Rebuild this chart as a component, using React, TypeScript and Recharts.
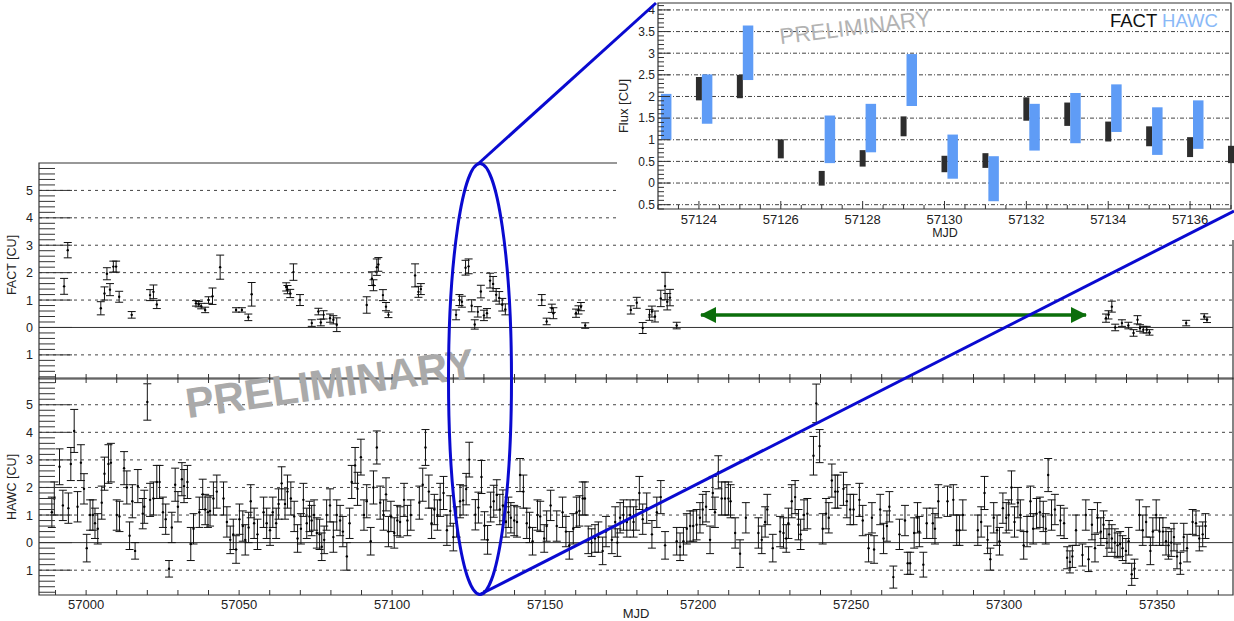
import React from 'react';
import { ComposedChart, Scatter, XAxis, YAxis, ErrorBar, ReferenceLine, ReferenceArea } from 'recharts';

const FONT = '"Liberation Sans", Arial, Helvetica, sans-serif';

// ---------------- FACT light curve (main panel) ----------------
const factMjd = [
  56992.8, 56994.0, 57004.8, 57006.0, 57006.8, 57007.8, 57008.9, 57009.8, 57010.8, 57014.9,
  57020.9, 57022.0, 57023.1, 57035.9, 57036.8, 57037.6, 57038.9, 57040.0, 57041.3, 57043.8,
  57049.0, 57050.9, 57053.0, 57054.1, 57065.4, 57065.8, 57066.7, 57067.75, 57069.9, 57073.75,
  57075.9, 57076.7, 57077.6, 57079.7, 57080.8, 57081.9, 57091.7, 57093.4, 57093.9, 57095.0,
  57095.5, 57097.0, 57098.0, 57098.8, 57107.5, 57108.6, 57109.4, 57120.9, 57122.0, 57122.8,
  57124.0, 57125.0, 57126.0, 57127.0, 57128.0, 57129.0, 57130.0, 57131.0, 57132.0, 57133.0,
  57134.0, 57135.0, 57136.0, 57137.0, 57148.9, 57150.5, 57152.2, 57152.7, 57160.1, 57160.9,
  57161.7, 57163.1, 57178.0, 57179.95, 57181.9, 57184.1, 57184.9, 57185.9, 57187.8, 57189.2,
  57189.9, 57190.8, 57193.0, 57333.3, 57334.1, 57335.2, 57336.3, 57338.5, 57340.6, 57342.3,
  57343.6, 57344.4, 57345.5, 57346.6, 57347.5, 57359.5, 57365.4, 57366.3,
];
const factFlux = [
  1.5, 2.82, 0.7, 1.24, 1.96, 1.38, 2.22, 2.22, 1.12, 0.46,
  1.18, 1.3, 0.84, 0.88, 0.85, 0.78, 0.64, 1.0, 1.14, 2.2,
  0.64, 0.64, 0.37, 1.21, 1.48, 1.38, 1.24, 2.02, 1.0, 0.16,
  0.58, 0.18, 0.46, 0.34, 0.28, 0.1, 0.82, 1.78, 1.54, 2.2,
  2.3, 1.18, 0.76, 0.46, 1.9, 1.3, 1.4, 0.46, 1.0, 0.94,
  2.18, 2.23, 0.79, 0.11, 0.57, 1.31, 0.44, 0.52, 1.71, 1.59,
  1.19, 1.08, 0.83, 0.66, 1.0, 0.22, 0.7, 0.52, 0.52, 0.64,
  0.76, 0.07, 0.64, 0.9, -0.02, 0.46, 0.58, 0.4, 1.06, 1.51,
  0.94, 1.09, 0.07, 0.34, 0.46, 0.76, 0.0, 0.16, 0.07, -0.2,
  0.28, -0.02, -0.08, -0.08, -0.18, 0.16, 0.4, 0.28,
];
const factErr = [
  0.29, 0.28, 0.24, 0.24, 0.22, 0.22, 0.2, 0.2, 0.2, 0.12,
  0.2, 0.25, 0.15, 0.1, 0.1, 0.1, 0.1, 0.12, 0.3, 0.44,
  0.08, 0.08, 0.12, 0.43, 0.15, 0.15, 0.15, 0.3, 0.2, 0.12,
  0.12, 0.12, 0.15, 0.15, 0.15, 0.25, 0.3, 0.25, 0.2, 0.3,
  0.25, 0.2, 0.15, 0.1, 0.42, 0.2, 0.2, 0.18, 0.2, 0.2,
  0.27, 0.27, 0.22, 0.17, 0.19, 0.23, 0.19, 0.17, 0.27, 0.27,
  0.23, 0.23, 0.23, 0.2, 0.2, 0.12, 0.15, 0.2, 0.15, 0.15,
  0.15, 0.1, 0.15, 0.2, 0.2, 0.2, 0.2, 0.2, 0.3, 0.5,
  0.3, 0.3, 0.12, 0.15, 0.15, 0.2, 0.12, 0.12, 0.12, 0.12,
  0.15, 0.12, 0.12, 0.12, 0.1, 0.1, 0.1, 0.1,
];

// ---------------- HAWC light curve (main panel) ----------------
const hawcMjd = [
  56988.8, 56989.6, 56991.3, 56992.4, 56994.2, 56995.0, 56996.1, 56997.2, 56998.3, 56999.3,
  57000.2, 57001.3, 57002.2, 57002.9, 57003.8, 57005.1, 57006.0, 57007.3, 57008.1, 57010.0,
  57010.9, 57012.4, 57013.3, 57014.2, 57015.1, 57016.0, 57016.9, 57018.5, 57019.0, 57020.0,
  57020.9, 57022.0, 57023.1, 57024.0, 57025.1, 57026.0, 57027.1, 57028.0, 57029.1, 57030.0,
  57031.3, 57032.0, 57033.1, 57034.2, 57035.1, 57037.0, 57038.1, 57038.9, 57039.8, 57040.5,
  57041.6, 57042.7, 57044.9, 57046.0, 57047.1, 57048.1, 57049.0, 57050.1, 57051.2, 57052.0,
  57053.1, 57053.8, 57054.9, 57056.0, 57058.0, 57059.0, 57060.1, 57061.0, 57062.1, 57062.9,
  57063.9, 57065.0, 57065.8, 57066.9, 57068.0, 57069.1, 57070.2, 57071.0, 57072.1, 57073.0,
  57073.7, 57074.5, 57075.4, 57076.3, 57077.0, 57077.8, 57078.6, 57079.7, 57080.8, 57081.9,
  57083.0, 57083.9, 57085.2, 57086.1, 57086.8, 57087.9, 57088.7, 57089.8, 57090.8, 57091.7,
  57093.0, 57093.9, 57095.0, 57096.1, 57097.2, 57098.0, 57098.8, 57099.6, 57100.7, 57101.7,
  57102.6, 57103.9, 57105.0, 57106.1, 57108.9, 57110.0, 57110.9, 57112.0, 57112.9, 57113.8,
  57114.8, 57115.7, 57116.8, 57117.9, 57119.0, 57120.0, 57121.1, 57122.2, 57123.2, 57124.2,
  57125.2, 57127.2, 57128.2, 57129.2, 57130.2, 57131.2, 57132.2, 57133.2, 57134.2, 57135.2,
  57136.2, 57137.2, 57138.0, 57138.8, 57139.9, 57140.8, 57141.8, 57142.9, 57144.0, 57144.9,
  57145.9, 57147.5, 57148.4, 57149.7, 57150.5, 57151.8, 57153.8, 57155.7, 57156.8, 57157.9,
  57159.2, 57160.3, 57161.2, 57162.3, 57163.0, 57164.1, 57165.2, 57166.3, 57167.4, 57168.8,
  57169.9, 57171.8, 57172.9, 57173.6, 57174.5, 57175.6, 57176.7, 57177.8, 57178.9, 57179.7,
  57180.8, 57181.9, 57183.2, 57184.9, 57186.5, 57187.8, 57189.2, 57193.0, 57194.1, 57195.2,
  57196.3, 57197.4, 57198.4, 57199.5, 57200.6, 57201.5, 57202.6, 57203.9, 57204.8, 57205.5,
  57206.6, 57207.7, 57208.8, 57209.9, 57210.6, 57212.1, 57213.7, 57215.6, 57219.7, 57220.8,
  57221.9, 57222.6, 57224.4, 57226.8, 57227.9, 57228.8, 57229.5, 57230.6, 57231.7, 57232.8,
  57233.5, 57234.6, 57235.7, 57237.7, 57238.6, 57239.7, 57240.7, 57241.8, 57242.7, 57243.7,
  57244.8, 57245.6, 57247.5, 57248.6, 57249.7, 57250.8, 57252.7, 57253.8, 57255.7, 57256.8,
  57257.5, 57259.5, 57260.6, 57261.7, 57262.5, 57263.8, 57265.8, 57267.6, 57268.5, 57269.3,
  57270.6, 57271.7, 57272.3, 57273.6, 57274.7, 57276.7, 57277.4, 57278.5, 57281.5, 57283.4,
  57284.5, 57285.4, 57286.5, 57291.4, 57292.5, 57293.6, 57294.6, 57295.5, 57296.6, 57297.7,
  57298.5, 57299.6, 57300.7, 57301.5, 57302.4, 57303.4, 57304.5, 57305.3, 57306.4, 57307.5,
  57308.6, 57309.5, 57310.6, 57311.7, 57312.8, 57313.6, 57314.4, 57315.5, 57316.6, 57318.4,
  57319.6, 57320.6, 57321.5, 57322.3, 57323.5, 57325.6, 57326.7, 57327.6, 57328.7, 57329.7,
  57330.5, 57331.6, 57332.5, 57333.6, 57334.3, 57335.2, 57336.2, 57337.1, 57337.9, 57338.7,
  57339.8, 57340.7, 57341.7, 57342.6, 57344.2, 57345.3, 57346.4, 57347.8, 57348.6, 57349.7,
  57350.8, 57351.9, 57352.9, 57353.7, 57354.6, 57355.5, 57356.5, 57357.6, 57358.7, 57359.8,
  57361.6, 57362.7, 57363.8, 57364.9, 57365.8,
];
const hawcFlux = [
  1.1, 1.6, 2.75, 1.35, 1.25, 2.85, 4.05, 1.3, 2.9, 1.95,
  -0.2, 1.0, 1.0, 0.7, 0.5, 1.45, 2.5, 2.85, 2.9, 1.0,
  0.95, 2.7, 2.0, 0.25, 1.5, -0.3, 2.05, 1.05, 1.3, 5.1,
  1.55, 1.6, 2.2, 2.2, 1.1, 0.85, -0.95, 0.55, 2.1, 1.3,
  2.3, 2.05, 2.2, -0.05, 0.5, 1.1, 1.75, 1.2, 1.1, 1.15,
  1.6, 1.85, 1.6, 0.75, 0.1, 0.3, -0.25, 0.85, 0.6, 0.1,
  0.55, 1.5, 0.7, 0.3, 1.1, 0.7, 0.45, 1.1, 0.7, 1.4,
  2.15, 1.4, 1.85, 1.6, 0.95, 0.15, 0.5, 1.55, 0.7, 0.95,
  0.8, 1.0, 0.35, 0.3, -0.15, 0.1, 1.0, 1.35, 0.2, 1.0,
  0.8, 0.4, -0.5, 0.7, 2.2, 2.8, 1.95, 3.1, 1.0, 1.5,
  0.05, 2.0, 3.45, 1.45, 1.0, 1.75, 0.4, 0.95, 0.35, 0.8,
  0.75, 1.55, 0.8, 1.0, 1.45, 2.1, 3.45, 1.85, 0.7, 1.2,
  1.0, 1.55, 1.8, 0.45, 1.15, 0.2, 0.75, 1.5, 1.53, 1.94,
  3.01, 1.01, 1.27, 2.38, 0.61, 0.1, 1.29, 1.5, 1.73, 1.2,
  1.35, 0.75, 1.1, 0.9, 0.8, 0.75, 2.45, 1.85, 0.7, 0.55,
  0.05, 1.0, 0.95, 0.15, 0.6, 1.35, 0.6, 1.1, 0.4, -0.1,
  0.5, 1.1, 1.15, 1.6, 1.6, 0.1, 0.0, 0.15, 0.2, -0.3,
  0.4, 0.1, 0.75, 0.0, 0.9, 1.0, 0.75, 1.0, 0.75, 1.0,
  1.8, 0.85, 1.25, 0.3, 1.1, 1.65, -0.1, 0.05, -0.15, 0.05,
  0.5, 0.6, 0.6, 0.65, 0.9, 1.2, 1.3, 0.1, 1.8, 1.1,
  2.55, 1.6, 1.6, 1.6, 1.5, 0.35, -0.4, 0.9, 0.35, 0.1,
  0.75, 1.2, -0.2, 0.4, 0.35, 0.15, 0.7, 1.5, 1.65, 0.65,
  0.3, 1.0, 1.05, 3.15, 5.05, 3.5, 0.5, 1.05, 0.9, 2.25,
  1.85, 1.85, 1.95, 1.5, 1.2, 1.2, 1.55, 0.8, -0.2, 0.9,
  -0.25, 1.2, 0.15, 0.6, 1.3, -1.25, 0.3, 0.8, -0.75, -0.75,
  0.35, 0.9, 0.4, -0.8, 0.7, 0.7, 0.5, 1.5, 1.5, 1.55,
  0.45, 0.45, 1.0, 0.45, 0.75, 1.8, 0.1, -0.6, 0.9, 0.45,
  0.05, 1.25, 0.9, 1.0, 2.0, 0.75, 1.45, 1.0, -0.1, 0.4,
  1.5, 0.5, 1.05, 1.1, 0.95, 0.5, 2.45, 1.0, 1.2, 0.8,
  0.7, -0.55, -0.7, -0.5, 0.45, -0.45, 1.0, -0.6, 0.65, -0.2,
  0.9, 0.4, 0.65, 0.0, 0.3, 0.15, 0.0, -0.1, -0.05, -0.2,
  -0.3, 0.05, -1.15, -0.95, 1.0, 0.45, 0.75, -0.3, 0.4, 1.0,
  0.4, 0.4, 0.05, -0.1, 0.0, 0.2, -0.5, -0.75, 0.2, -0.2,
  0.75, 0.7, 0.15, 0.3, 0.6,
];
const hawcErr = [
  0.55, 0.6, 0.65, 0.55, 0.55, 0.6, 0.78, 0.55, 0.65, 0.55,
  0.5, 0.55, 0.55, 0.55, 0.55, 0.6, 0.6, 0.7, 0.7, 0.55,
  0.55, 0.6, 0.6, 0.5, 0.6, 0.3, 0.6, 0.55, 0.6, 0.66,
  0.6, 0.6, 0.6, 0.6, 0.55, 0.55, 0.3, 0.55, 0.6, 0.55,
  0.6, 0.6, 0.6, 0.6, 0.55, 0.55, 0.55, 0.55, 0.55, 0.55,
  0.6, 0.6, 0.6, 0.55, 0.5, 0.55, 0.5, 0.55, 0.55, 0.55,
  0.55, 0.6, 0.55, 0.55, 0.55, 0.55, 0.55, 0.55, 0.55, 0.55,
  0.6, 0.55, 0.6, 0.6, 0.55, 0.5, 0.55, 0.6, 0.55, 0.55,
  0.55, 0.55, 0.55, 0.55, 0.5, 0.5, 0.55, 0.6, 0.55, 0.55,
  0.55, 0.55, 0.5, 0.55, 0.6, 0.65, 0.6, 0.65, 0.55, 0.6,
  0.5, 0.6, 0.6, 0.6, 0.55, 0.6, 0.55, 0.55, 0.55, 0.55,
  0.55, 0.6, 0.55, 0.55, 0.6, 0.6, 0.65, 0.6, 0.55, 0.55,
  0.55, 0.6, 0.6, 0.55, 0.55, 0.5, 0.55, 0.6, 0.53, 0.57,
  0.63, 0.55, 0.56, 0.6, 0.51, 0.52, 0.54, 0.58, 0.55, 0.55,
  0.56, 0.55, 0.55, 0.55, 0.55, 0.55, 0.6, 0.6, 0.55, 0.55,
  0.5, 0.55, 0.55, 0.5, 0.55, 0.55, 0.55, 0.55, 0.55, 0.5,
  0.55, 0.55, 0.55, 0.6, 0.6, 0.5, 0.5, 0.5, 0.55, 0.5,
  0.55, 0.5, 0.55, 0.5, 0.55, 0.55, 0.55, 0.55, 0.55, 0.55,
  0.6, 0.55, 0.55, 0.5, 0.55, 0.6, 0.5, 0.5, 0.5, 0.5,
  0.55, 0.55, 0.55, 0.55, 0.55, 0.55, 0.55, 0.5, 0.6, 0.55,
  0.6, 0.6, 0.6, 0.6, 0.6, 0.55, 0.5, 0.55, 0.55, 0.5,
  0.55, 0.55, 0.5, 0.55, 0.55, 0.5, 0.55, 0.6, 0.6, 0.55,
  0.55, 0.55, 0.55, 0.7, 0.7, 0.6, 0.55, 0.55, 0.55, 0.6,
  0.6, 0.6, 0.6, 0.6, 0.55, 0.55, 0.6, 0.55, 0.5, 0.55,
  0.5, 0.55, 0.55, 0.55, 0.55, 0.4, 0.55, 0.55, 0.4, 0.4,
  0.55, 0.55, 0.55, 0.45, 0.55, 0.55, 0.55, 0.6, 0.55, 0.55,
  0.55, 0.55, 0.55, 0.55, 0.55, 0.6, 0.5, 0.4, 0.55, 0.55,
  0.5, 0.55, 0.55, 0.55, 0.6, 0.55, 0.55, 0.55, 0.5, 0.55,
  0.55, 0.55, 0.55, 0.55, 0.55, 0.55, 0.6, 0.55, 0.55, 0.55,
  0.55, 0.4, 0.4, 0.4, 0.55, 0.4, 0.55, 0.45, 0.55, 0.5,
  0.55, 0.5, 0.5, 0.5, 0.5, 0.5, 0.5, 0.45, 0.45, 0.45,
  0.45, 0.5, 0.4, 0.35, 0.55, 0.55, 0.55, 0.5, 0.5, 0.55,
  0.5, 0.5, 0.5, 0.5, 0.5, 0.5, 0.45, 0.4, 0.5, 0.5,
  0.45, 0.45, 0.45, 0.45, 0.45,
];

// ---------------- Inset (zoom on MJD 57123-57137) ----------------
const insetFactDay = [57124, 57125, 57126, 57127, 57128, 57129, 57130, 57131, 57132, 57133, 57134, 57135, 57136, 57137];
const insetFactMid = [2.18, 2.23, 0.79, 0.11, 0.57, 1.31, 0.44, 0.52, 1.71, 1.59, 1.19, 1.08, 0.83, 0.66];
const insetFactHalf = [0.27, 0.27, 0.22, 0.17, 0.19, 0.23, 0.19, 0.17, 0.27, 0.27, 0.23, 0.23, 0.23, 0.2];
const insetHawcDay = [57123.2, 57124.2, 57125.2, 57127.2, 57128.2, 57129.2, 57130.2, 57131.2, 57132.2, 57133.2, 57134.2, 57135.2, 57136.2];
const insetHawcMid = [1.53, 1.94, 3.01, 1.01, 1.27, 2.38, 0.61, 0.1, 1.29, 1.5, 1.73, 1.2, 1.35];
const insetHawcHalf = [0.53, 0.57, 0.63, 0.55, 0.56, 0.6, 0.51, 0.52, 0.54, 0.58, 0.55, 0.55, 0.56];

// ---------------- axes ----------------
const mainXDomain: [number, number] = [56984.6, 57374.8];
const factYDomain: [number, number] = [-1.88, 6];
const hawcYDomain: [number, number] = [-1.9, 5.97];
const mainXLabels = [57000, 57050, 57100, 57150, 57200, 57250, 57300, 57350];
const mainXTicks = Array.from({ length: 39 }, (_, i) => 56990 + i * 10);
const mainYTicks = Array.from({ length: 39 }, (_, i) => Math.round((-1.8 + i * 0.2) * 10) / 10);
const mainGridLevels = [-1, 1, 2, 3, 4, 5];

const insetXDomain: [number, number] = [57123, 57137];
const insetYDomain: [number, number] = [-0.6, 4.16];
const insetXLabels = [57124, 57126, 57128, 57130, 57132, 57134, 57136];
const insetXTicks = Array.from({ length: 29 }, (_, i) => 57123 + i * 0.5);
const insetYTicks = Array.from({ length: 48 }, (_, i) => Math.round((-0.6 + i * 0.1) * 10) / 10);
const insetGridLevels = [-0.5, 0, 0.5, 1, 1.5, 2, 2.5, 3, 3.5, 4];

const factData = factMjd.map((x, i) => ({ x, y: factFlux[i], err: factErr[i] }));
const hawcData = hawcMjd.map((x, i) => ({ x, y: hawcFlux[i], err: hawcErr[i] }));
const insetFactData = insetFactDay.map((x, i) => ({ x, y: insetFactMid[i], err: insetFactHalf[i] }));
const insetHawcData = insetHawcDay.map((x, i) => ({ x, y: insetHawcMid[i], err: insetHawcHalf[i] }));

const AX = '#333';

const Dot = (p: any) => <circle cx={p.cx} cy={p.cy} r={1.2} fill="#000" />;
const NoShape = () => <g />;

const MainYTick = (props: any) => {
  const { x, y, payload } = props;
  const v = Math.round(payload.value * 10) / 10;
  const major = Number.isInteger(v);
  return (
    <g>
      <line x1={x} x2={x + (major ? 33 : 16)} y1={y} y2={y} stroke={AX} strokeWidth={1} />
      {major && (
        <text x={x - 6} y={y + 4.5} textAnchor="end" fontSize={12.5} fontFamily={FONT} fill="#222">
          {String(Math.abs(v))}
        </text>
      )}
    </g>
  );
};

const makeMainXTick = (withLabels: boolean, topOffset: number) => (props: any) => {
  const { x, y, payload } = props;
  const v = payload.value;
  return (
    <g>
      <line x1={x} x2={x} y1={y} y2={y - 5} stroke={AX} strokeWidth={1} />
      {topOffset > 0 && <line x1={x} x2={x} y1={y - topOffset} y2={y - topOffset + 5} stroke={AX} strokeWidth={1} />}
      {withLabels && mainXLabels.includes(v) && (
        <text x={x} y={y + 13.5} textAnchor="middle" fontSize={13} fontFamily={FONT} fill="#222">
          {String(v)}
        </text>
      )}
    </g>
  );
};
const FactXTick = makeMainXTick(false, 0);
const HawcXTick = makeMainXTick(true, 217);

const InsetYTick = (props: any) => {
  const { x, y, payload } = props;
  const v = Math.round(payload.value * 10) / 10;
  const major = Math.round(v * 10) % 5 === 0;
  return (
    <g>
      <line x1={x} x2={x + (major ? 12 : 6)} y1={y} y2={y} stroke={AX} strokeWidth={1} />
      {major && (
        <text x={x - 3} y={y + 4.3} textAnchor="end" fontSize={12} fontFamily={FONT} fill="#222">
          {String(Math.abs(v))}
        </text>
      )}
    </g>
  );
};

const InsetXTick = (props: any) => {
  const { x, y, payload } = props;
  const v = payload.value;
  const labeled = insetXLabels.includes(v);
  return (
    <g>
      <line x1={x} x2={x} y1={y} y2={y - (labeled ? 8 : 4)} stroke={AX} strokeWidth={1} />
      {labeled && (
        <text x={x} y={y + 14.5} textAnchor="middle" fontSize={13} fontFamily={FONT} fill="#222">
          {String(v)}
        </text>
      )}
    </g>
  );
};

const MainPanel = ({ data, yDomain, height, top, Tick }: any) => (
  <ComposedChart width={1234} height={height} margin={{ top, right: 1, bottom: 0, left: 0 }}>
    <XAxis
      dataKey="x"
      type="number"
      domain={mainXDomain}
      allowDataOverflow
      ticks={mainXTicks}
      interval={0}
      tickSize={0}
      tickMargin={0}
      axisLine={false}
      tickLine={false}
      height={height === 621 ? 26 : 20}
      tick={<Tick />}
    />
    <YAxis
      dataKey="y"
      type="number"
      domain={yDomain}
      allowDataOverflow
      ticks={mainYTicks}
      interval={0}
      tickSize={0}
      tickMargin={0}
      axisLine={false}
      tickLine={false}
      width={39}
      tick={<MainYTick />}
    />
    {mainGridLevels.map((lv) => (
      <ReferenceLine key={lv} y={lv} stroke="#444" strokeDasharray="3 4" strokeWidth={1} />
    ))}
    <ReferenceLine y={0} stroke={AX} strokeWidth={1} />
    <ReferenceArea
      x1={mainXDomain[0]}
      x2={mainXDomain[1]}
      y1={yDomain[0]}
      y2={yDomain[1]}
      fill="none"
      fillOpacity={0}
      stroke={AX}
      strokeWidth={1.2}
      ifOverflow="visible"
    />
    <Scatter data={data} isAnimationActive={false} shape={Dot}>
      <ErrorBar dataKey="err" direction="y" width={4} stroke="#111" strokeWidth={1} isAnimationActive={false} />
    </Scatter>
  </ComposedChart>
);

const InsetPanel = () => (
  <ComposedChart width={617} height={240} margin={{ top: 3, right: 3, bottom: 0, left: 0 }}>
    <XAxis
      dataKey="x"
      type="number"
      domain={insetXDomain}
      allowDataOverflow
      ticks={insetXTicks}
      interval={0}
      tickSize={0}
      tickMargin={0}
      axisLine={false}
      tickLine={false}
      height={31}
      tick={<InsetXTick />}
    />
    <YAxis
      dataKey="y"
      type="number"
      domain={insetYDomain}
      allowDataOverflow
      ticks={insetYTicks}
      interval={0}
      tickSize={0}
      tickMargin={0}
      axisLine={false}
      tickLine={false}
      width={41}
      tick={<InsetYTick />}
    />
    {insetGridLevels.map((lv) => (
      <ReferenceLine key={lv} y={lv} stroke="#444" strokeDasharray="4 2 1 2" strokeWidth={1} />
    ))}
    <ReferenceArea
      x1={insetXDomain[0]}
      x2={insetXDomain[1]}
      y1={insetYDomain[0]}
      y2={insetYDomain[1]}
      fill="none"
      fillOpacity={0}
      stroke={AX}
      strokeWidth={1.2}
      ifOverflow="visible"
    />
    <Scatter data={insetFactData} isAnimationActive={false} shape={NoShape}>
      <ErrorBar dataKey="err" direction="y" width={0} stroke="#2d2d2d" strokeWidth={6} isAnimationActive={false} />
    </Scatter>
    <Scatter data={insetHawcData} isAnimationActive={false} shape={NoShape}>
      <ErrorBar dataKey="err" direction="y" width={0} stroke="#5f9cf6" strokeWidth={10.5} isAnimationActive={false} />
    </Scatter>
  </ComposedChart>
);

export default function App() {
  return (
    <div style={{ position: 'absolute', left: 0, top: 0, width: 1234, height: 621, background: '#fff', overflow: 'hidden', fontFamily: FONT }}>
      <div style={{ position: 'absolute', left: 0, top: 0 }}>
        <MainPanel data={factData} yDomain={factYDomain} height={399} top={163} Tick={FactXTick} />
      </div>
      <div style={{ position: 'absolute', left: 0, top: 0 }}>
        <MainPanel data={hawcData} yDomain={hawcYDomain} height={621} top={378} Tick={HawcXTick} />
      </div>
      <div style={{ position: 'absolute', left: 617, top: 0, width: 617, height: 240, background: '#fff' }}>
        <InsetPanel />
      </div>
      <svg width={1234} height={621} style={{ position: 'absolute', left: 0, top: 0, pointerEvents: 'none' }}>
        <text x={12} y={265} transform="rotate(-90 12 265)" dy={4} textAnchor="middle" fontSize={12.5} fontFamily={FONT} fill="#222">FACT [CU]</text>
        <text x={12} y={487} transform="rotate(-90 12 487)" dy={4} textAnchor="middle" fontSize={12.5} fontFamily={FONT} fill="#222">HAWC [CU]</text>
        <text x={636} y={618} textAnchor="middle" fontSize={13} fontFamily={FONT} fill="#222">MJD</text>
        <text x={624} y={106} transform="rotate(-90 624 106)" dy={4} textAnchor="middle" fontSize={13} fontFamily={FONT} fill="#222">Flux [CU]</text>
        <text x={945} y={237} textAnchor="middle" fontSize={12.5} fontFamily={FONT} fill="#222">MJD</text>
        <text x={1110} y={27} fontSize={18.5} fontFamily={FONT}>
          <tspan fill="#111">FACT</tspan>
          <tspan fill="#8ab9f7"> HAWC</tspan>
        </text>
        <text x={856} y={35} transform="rotate(-7 856 35)" textAnchor="middle" fontSize={22.5} fontFamily={FONT} fill="#b3b3b3">PRELIMINARY</text>
        <text x={332} y={398} transform="rotate(-8 332 398)" textAnchor="middle" fontSize={42.5} fontWeight="bold" fontFamily={FONT} fill="#aaaaaa">PRELIMINARY</text>
        <line x1={701} y1={315} x2={1086} y2={315} stroke="#0b6e0b" strokeWidth={3.5} />
        <polygon points="700,315 716,307 716,323" fill="#0b6e0b" />
        <polygon points="1087,315 1071,307 1071,323" fill="#0b6e0b" />
        <ellipse cx={480} cy={379} rx={31.5} ry={215.5} fill="none" stroke="#0a0ad0" strokeWidth={3} />
        <line x1={478} y1={164} x2={656} y2={3} stroke="#0a0ad0" strokeWidth={3} />
        <line x1={481} y1={594} x2={1234} y2={211} stroke="#0a0ad0" strokeWidth={3} />
      </svg>
    </div>
  );
}
